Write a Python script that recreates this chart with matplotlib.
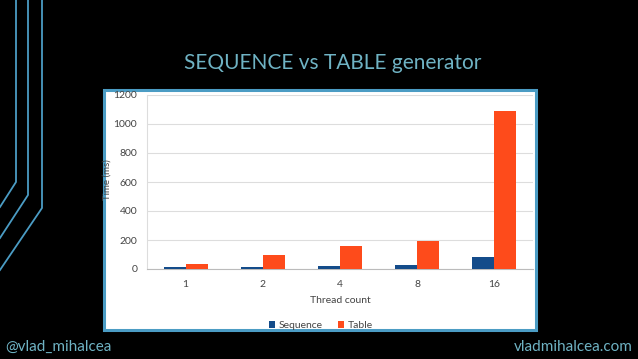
import numpy as np
import matplotlib
matplotlib.use('Agg')
import matplotlib.pyplot as plt
from matplotlib.patches import Rectangle
from matplotlib.lines import Line2D

threads = ['1', '2', '4', '8', '16']
sequence_ms = [11, 15, 18, 28, 83]
table_ms = [37, 96, 156, 193, 1090]
y_ticks = [0, 200, 400, 600, 800, 1000, 1200]

BG = '#000000'
ACCENT = '#4b9cc4'
TITLE_COL = '#6fb3c4'
SEQ_COL = '#144c8a'
TAB_COL = '#fe4b1b'

plt.rcParams['font.family'] = ['Lato', 'DejaVu Sans']

W, H = 638, 359
fig = plt.figure(figsize=(W / 100, H / 100), dpi=100, facecolor=BG)

# decorative lines on the left (pixel coords -> figure fraction)
def px(x, y):
    return x / W, 1 - y / H

for xt, yb, x0, y0 in [(16, 182, 0, 207), (28, 195, 0, 238), (42, 208, 0, 270)]:
    (ax1, ay1), (ax2, ay2), (ax3, ay3) = px(xt, 0), px(xt, yb), px(x0, y0)
    fig.add_artist(Line2D([ax1, ax2, ax3], [ay1, ay2, ay3], color=ACCENT,
                          lw=1.3, transform=fig.transFigure))

# white chart panel with blue border
x0, y0 = px(104, 330)
x1, y1 = px(536, 90)
fig.patches.append(Rectangle((x0, y0), x1 - x0, y1 - y0, transform=fig.transFigure,
                             facecolor='white', edgecolor=ACCENT, lw=2.2, zorder=-1))

fig.text(0.522, 1 - 63 / H, 'SEQUENCE vs TABLE generator', color=TITLE_COL,
         fontsize=15, ha='center', va='center')
fig.text(5 / W, 1 - 347 / H, '@vlad_mihalcea', color=TITLE_COL,
         fontsize=11, ha='left', va='center')
fig.text(633 / W, 1 - 347 / H, 'vladmihalcea.com', color=TITLE_COL,
         fontsize=11, ha='right', va='center')
# y axis title
fig.text(107 / W, 1 - 180 / H, 'Time (ms)', color='#444444', fontsize=7,
         rotation=90, ha='center', va='center', zorder=5)

ax = fig.add_axes([147 / W, 90 / H, 386 / W, 174 / H])
ax.set_facecolor('white')
x = np.arange(len(threads))
bw = 0.285
ax.bar(x - bw / 2, sequence_ms, bw, color=SEQ_COL, label='Sequence', zorder=3)
ax.bar(x + bw / 2, table_ms, bw, color=TAB_COL, label='Table', zorder=3)

ax.set_xlim(-0.5, len(threads) - 0.5)
ax.set_ylim(0, 1200)
ax.set_yticks(y_ticks)
ax.set_xticks(x)
ax.set_xticklabels(threads)
ax.tick_params(length=0, labelsize=7.5, colors='#444444')
ax.tick_params(axis='y', pad=7)
ax.tick_params(axis='x', pad=8)
ax.grid(axis='y', color='#dddddd', lw=0.8, zorder=0)
for s in ['top', 'right']:
    ax.spines[s].set_visible(False)
ax.spines['left'].set_color('#dddddd')
ax.spines['bottom'].set_color('#bbbbbb')
ax.set_xlabel('Thread count', fontsize=7.5, color='#444444', labelpad=5)

ax.legend(loc='center', bbox_to_anchor=(0.45, -0.325), ncol=2, frameon=False,
          fontsize=7.5, handlelength=0.6, handleheight=0.6, handletextpad=0.3,
          columnspacing=1.5, labelcolor='#444444')

fig.savefig('out.png', dpi=100, facecolor=BG)
